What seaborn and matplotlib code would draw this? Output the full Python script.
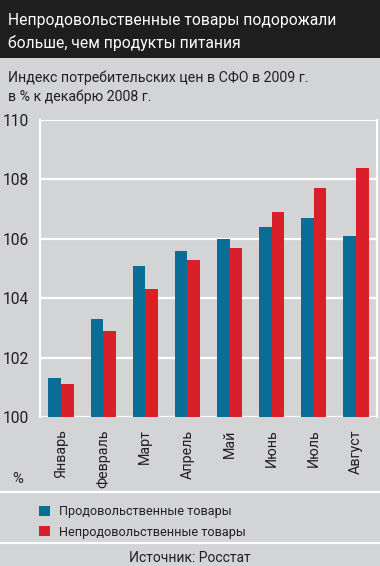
import matplotlib
matplotlib.use("Agg")
import matplotlib.pyplot as plt
import seaborn as sns
import pandas as pd
from matplotlib.patches import Rectangle, Patch
from matplotlib.lines import Line2D

months = ["Январь", "Февраль", "Март", "Апрель", "Май", "Июнь", "Июль", "Август"]
food = [101.3, 103.3, 105.1, 105.6, 106.0, 106.4, 106.7, 106.1]
nonfood = [101.1, 102.9, 104.3, 105.3, 105.7, 106.9, 107.7, 108.4]
series_names = ["Продовольственные товары", "Непродовольственные товары"]
yticks = [100, 102, 104, 106, 108, 110]

title1 = "Непродовольственные товары подорожали"
title2 = "больше, чем продукты питания"
subtitle1 = "Индекс потребительских цен в СФО в 2009 г."
subtitle2 = "в % к декабрю 2008 г."
source = "Источник: Росстат"

BG = "#d3d4d6"
BLUE = "#0a6d97"
RED = "#d9202a"
DARK = "#1e1e1e"
TXT = "#231f20"

sns.set_theme(style="white")
FONT = ["Roboto", "DejaVu Sans"]
plt.rcParams["font.family"] = FONT

W, H = 380, 566
fig = plt.figure(figsize=(W / 100, H / 100), dpi=100, facecolor=BG)
renderer = fig.canvas.get_renderer()

def fx(px):
    return px / W

def fy(py):
    return 1 - py / H

def fit(t, target_px, horizontal=True):
    bb = t.get_window_extent(renderer)
    cur = bb.width if horizontal else bb.height
    t.set_fontsize(t.get_fontsize() * target_px / cur)
    return t.get_fontsize()

# title bar
fig.patches.append(Rectangle((0, fy(58)), 1, 58 / H, transform=fig.transFigure,
                             facecolor=DARK, edgecolor="none", zorder=0))
t1 = fig.text(fx(8), fy(25), title1, color="white", fontsize=15, va="baseline", ha="left")
ts = fit(t1, 327)
fig.text(fx(8), fy(48), title2, color="white", fontsize=ts, va="baseline", ha="left")
s1 = fig.text(fx(8), fy(82), subtitle1, color=TXT, fontsize=13, va="baseline", ha="left")
ss = fit(s1, 298)
fig.text(fx(8), fy(101), subtitle2, color=TXT, fontsize=ss, va="baseline", ha="left")

df = pd.DataFrame({
    "month": months * 2,
    "value": food + nonfood,
    "series": [series_names[0]] * len(months) + [series_names[1]] * len(months),
})

ax = fig.add_axes([fx(40), fy(417), (377 - 40) / W, (417 - 120) / H])
ax.set_facecolor(BG)
sns.barplot(data=df, x="month", y="value", hue="series", palette=[BLUE, RED],
            width=0.6, ax=ax, legend=False, saturation=1, linewidth=0, zorder=3)
ax.set_ylim(100, 110)
ax.set_xlim(-0.5, len(months) - 0.5)
ax.set_yticks(yticks)

probe = fig.text(0, 0, "110", fontsize=12)
ysize = fit(probe, 26)
probe.remove()
probe = fig.text(0, 0, "Февраль", fontsize=12)
xsize = fit(probe, 58)
probe.remove()

ax.set_yticklabels([str(v) for v in yticks], fontsize=ysize, color=TXT)
ax.grid(axis="y", color="white", linewidth=1.6, zorder=1)
ax.grid(axis="x", visible=False)
ax.set_axisbelow(True)
for s in ["top", "bottom"]:
    ax.spines[s].set_visible(False)
for s in ["left", "right"]:
    ax.spines[s].set_visible(True)
    ax.spines[s].set_color("white")
    ax.spines[s].set_linewidth(1.6)
ax.tick_params(axis="y", length=0, pad=8)
ax.set_xticks(range(len(months)))
ax.set_xticklabels(months, rotation=90, fontsize=xsize, color=TXT, va="top")
ax.tick_params(axis="x", which="major", length=0, pad=9)
ax.set_xticks([i - 0.5 for i in range(len(months) + 1)], minor=True)
ax.tick_params(axis="x", which="minor", length=6, color="white", width=1.6)
ax.set_xlabel("")
ax.set_ylabel("")

fig.text(fx(12), fy(483), "%", color=TXT, fontsize=xsize * 1.05, va="baseline", ha="left")

# separators
fig.add_artist(Line2D([0, 1], [fy(492), fy(492)], transform=fig.transFigure,
                      color="white", linewidth=1.6))
fig.add_artist(Line2D([0, 1], [fy(543), fy(543)], transform=fig.transFigure,
                      color="white", linewidth=1.6))

probe = fig.text(0, 0, series_names[0], fontsize=12)
lsize = fit(probe, 172)
probe.remove()

handles = [Patch(facecolor=BLUE, edgecolor="none"), Patch(facecolor=RED, edgecolor="none")]
fig.legend(handles, series_names, loc="upper left", bbox_to_anchor=(fx(34), fy(500)),
           frameon=False, fontsize=lsize, handlelength=0.85, handleheight=0.85,
           handletextpad=0.75, labelspacing=0.6, borderaxespad=0, labelcolor=TXT)

src = fig.text(0.5, fy(562), source, color=TXT, fontsize=12, va="baseline", ha="center")
fit(src, 122)

fig.savefig("out.png", dpi=100, facecolor=BG)
